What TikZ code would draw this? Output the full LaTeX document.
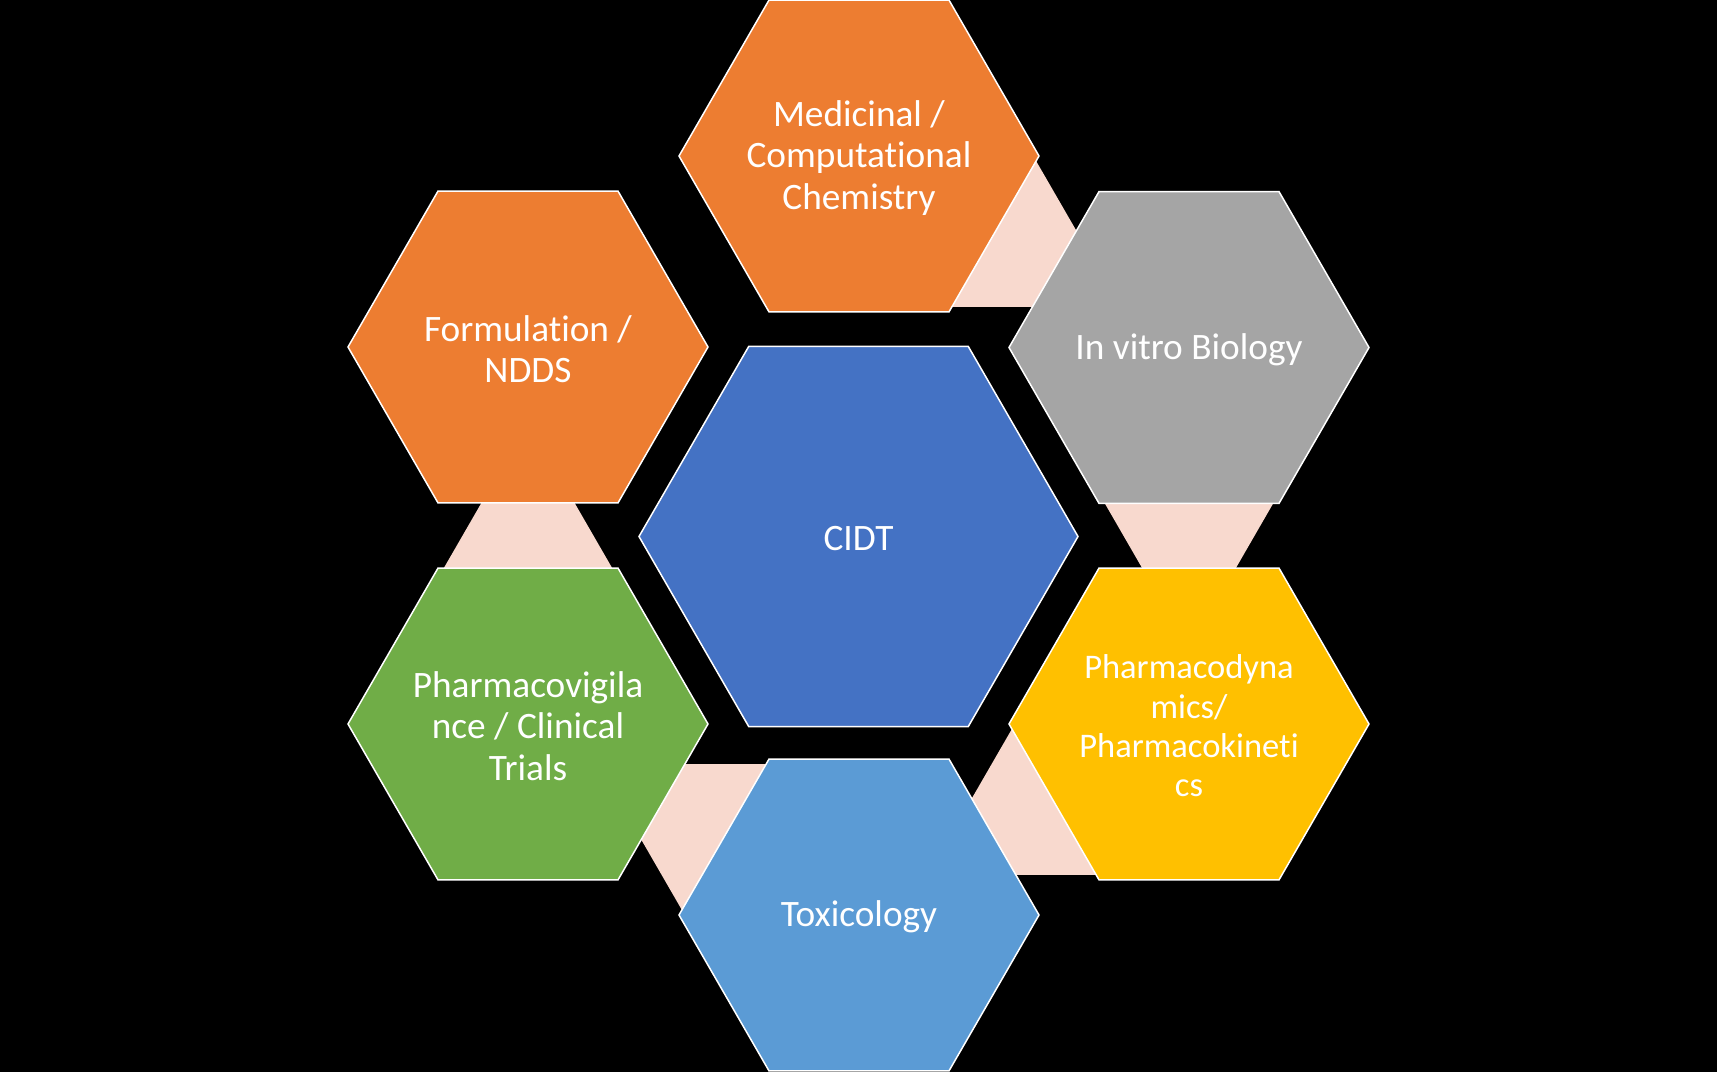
\documentclass[tikz,border=0pt]{standalone}
\usepackage{fontspec}
\setmainfont[Ligatures=NoCommon]{Carlito}
\usetikzlibrary{calc}
\definecolor{orangeA}{HTML}{ED7D31}
\definecolor{grayA}{HTML}{A5A5A5}
\definecolor{yellowA}{HTML}{FFC000}
\definecolor{blueA}{HTML}{4472C4}
\definecolor{blueB}{HTML}{5B9BD5}
\definecolor{greenA}{HTML}{70AD47}
\definecolor{pinkA}{HTML}{F8D9CE}
\newcommand\hexat[3]{\filldraw[hexfill, fill=#3, shift={(#1)}] (0:#2) -- (60:#2) -- (120:#2) -- (180:#2) -- (240:#2) -- (300:#2) -- cycle;}
\begin{document}
\begin{tikzpicture}[x=1pt,y=1pt,
  hexfill/.style={draw=white, line width=1.5pt, line join=miter},
  lbl/.style={text=white, align=center, font=\fontsize{37.3}{41.5}\selectfont, inner sep=0pt, yshift=-2pt},
  lblsmall/.style={text=white, align=center, font=\fontsize{34.5}{39.3}\selectfont, inner sep=0pt, yshift=-2pt},
  conn/.style={fill=pinkA}]
\fill[black] (0,0) rectangle (1717,1072);
\useasboundingbox (0,0) rectangle (1717,1072);
\coordinate (C) at (858.5,535.5);
\coordinate (T) at (859,916);
\coordinate (G) at (1189,724.5);
\coordinate (Y) at (1189,348);
\coordinate (X) at (859,157);
\coordinate (N) at (528,348);
\coordinate (F) at (528,725);
% connector wedges
\foreach \A/\t in {T/90,G/30,Y/-30,X/-90,N/210}{
  \fill[conn] ($(\A)+({\t+150}:171.3)+({\t-120}:5)$) -- ($(\A)+({\t-30}:171.3)+({\t-120}:5)$) -- ($(\A)+({\t-120}:301.8)$) -- cycle;
}
% hexagons
\hexat{T}{180}{orangeA}
\hexat{G}{180}{grayA}
\hexat{Y}{180}{yellowA}
\hexat{X}{180}{blueB}
\hexat{N}{180}{greenA}
\hexat{F}{180}{orangeA}
\hexat{C}{219.5}{blueA}
% labels
\node[lbl] (med) at (T) {Medicinal /\\Computational\\Chemistry};
\node[lbl] (vit) at (G) {In vitro Biology};
\node[lblsmall] (pd) at (Y) {Pharmacodyna\\mics/\\Pharmacokineti\\cs};
\node[lbl] (tox) at (X) {Toxicology};
\node[lbl] (pv) at (N) {Pharmacovigila\\nce / Clinical\\Trials};
\node[lbl] (form) at (F) {Formulation /\\NDDS};
\node[lbl] (cidt) at (C) {CIDT};
\end{tikzpicture}
\end{document}
